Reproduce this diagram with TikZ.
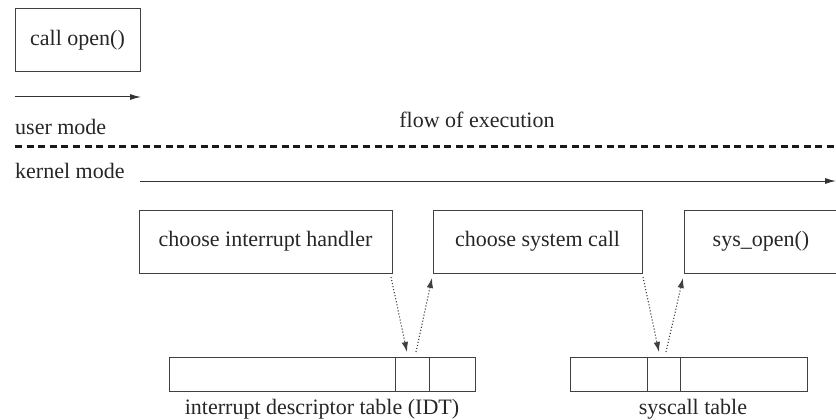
\documentclass[tikz,border=0pt]{standalone}
\usepackage{fontspec}
\setmainfont{Liberation Serif}
\usetikzlibrary{arrows.meta}
\begin{document}
\begin{tikzpicture}[x=1pt,y=-1pt,
  every node/.style={font=\fontsize{22}{26}\selectfont, text=black!85},
  stepbox/.style={draw=black!75, line width=1pt, minimum height=63pt, inner sep=0pt},
  cellbox/.style={draw=black!75, line width=1pt, minimum height=34pt, inner sep=0pt},
  lbl/.style={anchor=base west, inner sep=0pt},
  solidarrow/.style={line width=1pt, draw=black!80, -{Latex[length=11pt,width=6pt]}},
  dotarrow/.style={line width=1.1pt, draw=black!75, dotted, -{Latex[length=10pt,width=6.5pt]}}
]
\useasboundingbox (0,0) rectangle (836,420);

% user space
\node[stepbox, minimum width=125pt] (call) at (77.5,40) {call open()};
\coordinate (ua) at (15,97);
\coordinate (ub) at (141,97);
\draw[solidarrow] (ua) -- (ub);
\node[lbl] (user) at (15,135) {user mode};
\node[anchor=base, inner sep=0pt] (flow) at (477,128) {flow of execution};
\coordinate (da) at (15,146);
\coordinate (db) at (836,146);
\draw[line width=3pt, dash pattern=on 7pt off 4.6pt, draw=black!90] (da) -- (db);
\node[lbl] (kernel) at (15,178) {kernel mode};
\coordinate (ka) at (140,181);
\coordinate (kb) at (836,181);
\draw[solidarrow] (ka) -- (kb);

% kernel boxes
\node[stepbox, minimum width=253pt] (cih) at (265.5,241.5) {choose interrupt handler};
\node[stepbox, minimum width=209pt] (csc) at (537.5,241.5) {choose system call};
\node[stepbox, minimum width=154pt] (sys) at (761,241.5) {sys\_open()};

% IDT
\node[cellbox, minimum width=226pt] (idt1) at (282,374) {};
\node[cellbox, minimum width=34pt] (idt2) at (412,374) {};
\node[cellbox, minimum width=46pt] (idt3) at (452,374) {};
\node[anchor=base, inner sep=0pt] (idtl) at (322,414) {interrupt descriptor table (IDT)};

% syscall table
\node[cellbox, minimum width=77pt] (sc1) at (608.5,374) {};
\node[cellbox, minimum width=33pt] (sc2) at (663.5,374) {};
\node[cellbox, minimum width=127pt] (sc3) at (743.5,374) {};
\node[anchor=base, inner sep=0pt] (scl) at (693,414) {syscall table};

% dotted arrows
\coordinate (i1a) at (391,277);
\coordinate (i1b) at (407,352);
\coordinate (i2a) at (416,352);
\coordinate (i2b) at (432,278);
\draw[dotarrow] (i1a) -- (i1b);
\draw[dotarrow] (i2a) -- (i2b);
\coordinate (s1a) at (643,277);
\coordinate (s1b) at (659,352);
\coordinate (s2a) at (666,352);
\coordinate (s2b) at (683,278);
\draw[dotarrow] (s1a) -- (s1b);
\draw[dotarrow] (s2a) -- (s2b);
\end{tikzpicture}
\end{document}
